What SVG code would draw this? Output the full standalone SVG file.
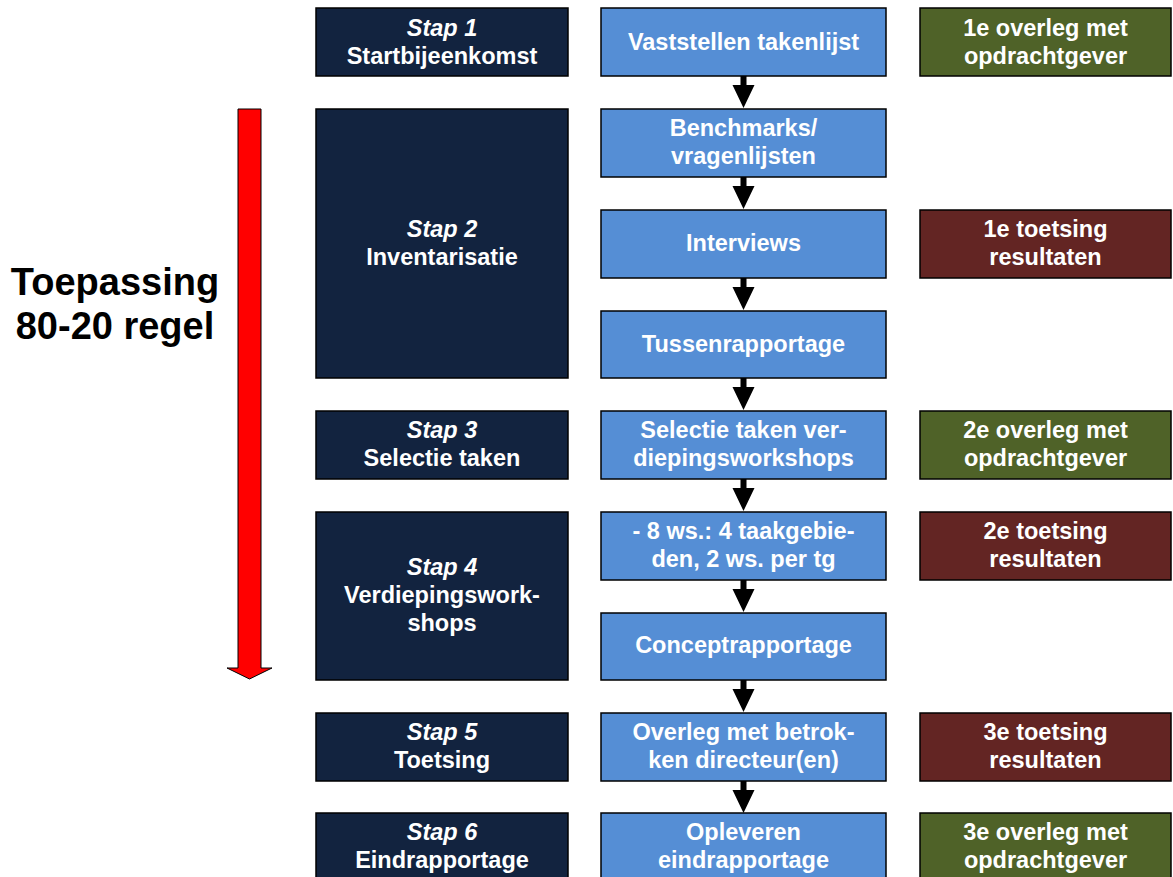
<svg xmlns="http://www.w3.org/2000/svg" width="1173" height="877" viewBox="0 0 1173 877">
  <style>
    .box { stroke: #000; stroke-width: 1.5; }
    .step { fill: #12233F; }
    .task { fill: #558ED5; }
    .meet { fill: #4F6228; }
    .test { fill: #632523; }
    text { font-family: "Liberation Sans", Arial, sans-serif; font-weight: bold; fill: #fff; font-size: 23.5px; text-anchor: middle; }
    .it { font-style: italic; }
    .big { fill: #000; font-size: 38px; }
    .conn { fill: #000; }
  </style>
  <defs>
    <!-- downward block arrow between two task boxes (33px gap) -->
    <path id="down" d="M -3 0 H 3 V 9 H 11 L 0 32 L -11 9 H -3 Z"/>
  </defs>
  <rect width="1173" height="877" fill="#fff"/>

  <!-- left label with red down arrow -->
  <g id="label">
    <text class="big" x="115" y="295">Toepassing</text>
    <text class="big" x="115" y="339">80-20 regel</text>
  </g>
  <g id="red-arrow">
    <path d="M 238 109 H 261 V 668 H 272 L 249.5 679 L 227 668 H 238 Z" fill="#FF0000" stroke="#000" stroke-width="1"/>
  </g>

  <!-- connectors -->
  <g id="connectors" class="conn">
    <use href="#down" x="743.5" y="76"/>
    <use href="#down" x="743.5" y="177"/>
    <use href="#down" x="743.5" y="278"/>
    <use href="#down" x="743.5" y="378"/>
    <use href="#down" x="743.5" y="479"/>
    <use href="#down" x="743.5" y="580"/>
    <use href="#down" x="743.5" y="680"/>
    <use href="#down" x="743.5" y="781"/>
  </g>

  <!-- steps column -->
  <g id="stap1">
    <rect class="box step" x="316" y="8" width="252" height="68"/>
    <text class="it" x="442" y="36">Stap 1</text>
    <text x="442" y="64">Startbijeenkomst</text>
  </g>
  <g id="stap2">
    <rect class="box step" x="316" y="109" width="252" height="269"/>
    <text class="it" x="442" y="237">Stap 2</text>
    <text x="442" y="265">Inventarisatie</text>
  </g>
  <g id="stap3">
    <rect class="box step" x="316" y="411" width="252" height="68"/>
    <text class="it" x="442" y="438">Stap 3</text>
    <text x="442" y="466">Selectie taken</text>
  </g>
  <g id="stap4">
    <rect class="box step" x="316" y="512" width="252" height="168"/>
    <text class="it" x="442" y="575">Stap 4</text>
    <text x="442" y="603">Verdiepingswork-</text>
    <text x="442" y="631">shops</text>
  </g>
  <g id="stap5">
    <rect class="box step" x="316" y="713" width="252" height="68"/>
    <text class="it" x="442" y="740">Stap 5</text>
    <text x="442" y="768">Toetsing</text>
  </g>
  <g id="stap6">
    <rect class="box step" x="316" y="813" width="252" height="68"/>
    <text class="it" x="442" y="840">Stap 6</text>
    <text x="442" y="868">Eindrapportage</text>
  </g>

  <!-- activities column -->
  <g id="vaststellen">
    <rect class="box task" x="601" y="8" width="285" height="68"/>
    <text x="743.5" y="50">Vaststellen takenlijst</text>
  </g>
  <g id="benchmarks">
    <rect class="box task" x="601" y="109" width="285" height="68"/>
    <text x="743.5" y="136">Benchmarks/</text>
    <text x="743.5" y="164">vragenlijsten</text>
  </g>
  <g id="interviews">
    <rect class="box task" x="601" y="210" width="285" height="68"/>
    <text x="743.5" y="251">Interviews</text>
  </g>
  <g id="tussenrapportage">
    <rect class="box task" x="601" y="311" width="285" height="67"/>
    <text x="743.5" y="352">Tussenrapportage</text>
  </g>
  <g id="selectie">
    <rect class="box task" x="601" y="411" width="285" height="68"/>
    <text x="743.5" y="438">Selectie taken ver-</text>
    <text x="743.5" y="466">diepingsworkshops</text>
  </g>
  <g id="workshops">
    <rect class="box task" x="601" y="512" width="285" height="68"/>
    <text x="743.5" y="539">- 8 ws.: 4 taakgebie-</text>
    <text x="743.5" y="567">den, 2 ws. per tg</text>
  </g>
  <g id="conceptrapportage">
    <rect class="box task" x="601" y="613" width="285" height="67"/>
    <text x="743.5" y="653">Conceptrapportage</text>
  </g>
  <g id="overleg">
    <rect class="box task" x="601" y="713" width="285" height="68"/>
    <text x="743.5" y="740">Overleg met betrok-</text>
    <text x="743.5" y="768">ken directeur(en)</text>
  </g>
  <g id="opleveren">
    <rect class="box task" x="601" y="813" width="285" height="68"/>
    <text x="743.5" y="840">Opleveren</text>
    <text x="743.5" y="868">eindrapportage</text>
  </g>

  <!-- client meetings and checks column -->
  <g id="overleg1">
    <rect class="box meet" x="920" y="8" width="251" height="68"/>
    <text x="1045.5" y="36">1e overleg met</text>
    <text x="1045.5" y="64">opdrachtgever</text>
  </g>
  <g id="toetsing1">
    <rect class="box test" x="920" y="210" width="251" height="68"/>
    <text x="1045.5" y="237">1e toetsing</text>
    <text x="1045.5" y="265">resultaten</text>
  </g>
  <g id="overleg2">
    <rect class="box meet" x="920" y="411" width="251" height="68"/>
    <text x="1045.5" y="438">2e overleg met</text>
    <text x="1045.5" y="466">opdrachtgever</text>
  </g>
  <g id="toetsing2">
    <rect class="box test" x="920" y="512" width="251" height="68"/>
    <text x="1045.5" y="539">2e toetsing</text>
    <text x="1045.5" y="567">resultaten</text>
  </g>
  <g id="toetsing3">
    <rect class="box test" x="920" y="713" width="251" height="68"/>
    <text x="1045.5" y="740">3e toetsing</text>
    <text x="1045.5" y="768">resultaten</text>
  </g>
  <g id="overleg3">
    <rect class="box meet" x="920" y="813" width="251" height="68"/>
    <text x="1045.5" y="840">3e overleg met</text>
    <text x="1045.5" y="868">opdrachtgever</text>
  </g>
</svg>
